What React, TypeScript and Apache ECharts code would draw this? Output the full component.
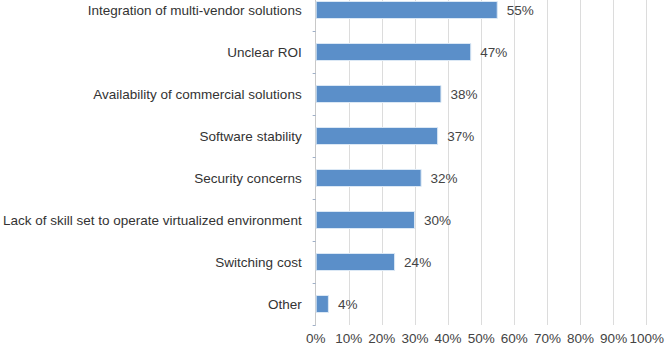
import React, { useEffect, useRef } from "react";
import * as echarts from "echarts";

const categories = [
  "Integration of multi-vendor solutions",
  "Unclear ROI",
  "Availability of commercial solutions",
  "Software stability",
  "Security concerns",
  "Lack of skill set to operate virtualized environment",
  "Switching cost",
  "Other",
];
const values = [55, 47, 38, 37, 32, 30, 24, 4];

export default function App() {
  const ref = useRef<HTMLDivElement>(null);
  useEffect(() => {
    const chart = echarts.init(ref.current!, null, { renderer: "svg" });
    chart.setOption({
      animation: false,
      grid: { left: 315, right: 12.5, top: 0, bottom: 26, containLabel: false },
      xAxis: {
        type: "value",
        min: 0,
        max: 100,
        interval: 10,
        axisLine: { show: false },
        axisTick: { show: false },
        splitLine: { show: true, lineStyle: { color: "#dcdcdc", width: 1 } },
        axisLabel: {
          formatter: "{value}%",
          color: "#444",
          fontFamily: "Liberation Sans",
          fontSize: 13.5,
          margin: 6,
        },
      },
      yAxis: {
        type: "category",
        inverse: true,
        data: categories,
        axisLine: { show: true, lineStyle: { color: "#c8c8c8", width: 1 } },
        axisTick: { show: true, length: 3, lineStyle: { color: "#9fb0c8" } },
        axisLabel: {
          color: "#333",
          fontFamily: "Liberation Sans",
          fontSize: 13.5,
          margin: 14,
        },
      },
      series: [
        {
          type: "bar",
          data: values,
          barWidth: 18,
          itemStyle: { color: "#5b8fc9", borderColor: "#dbe8f5", borderWidth: 1 },
          label: {
            show: true,
            position: "right",
            distance: 9,
            formatter: "{c}%",
            color: "#444",
            fontFamily: "Liberation Sans",
            fontSize: 13.5,
          },
        },
      ],
    });
    return () => chart.dispose();
  }, []);
  return (
    <div style={{ position: "absolute", left: 0, top: 0, width: 667, height: 351, overflow: "hidden" }}>
      <div ref={ref} style={{ width: 667, height: 362, position: "absolute", left: 0, top: -11 }} />
    </div>
  );
}
